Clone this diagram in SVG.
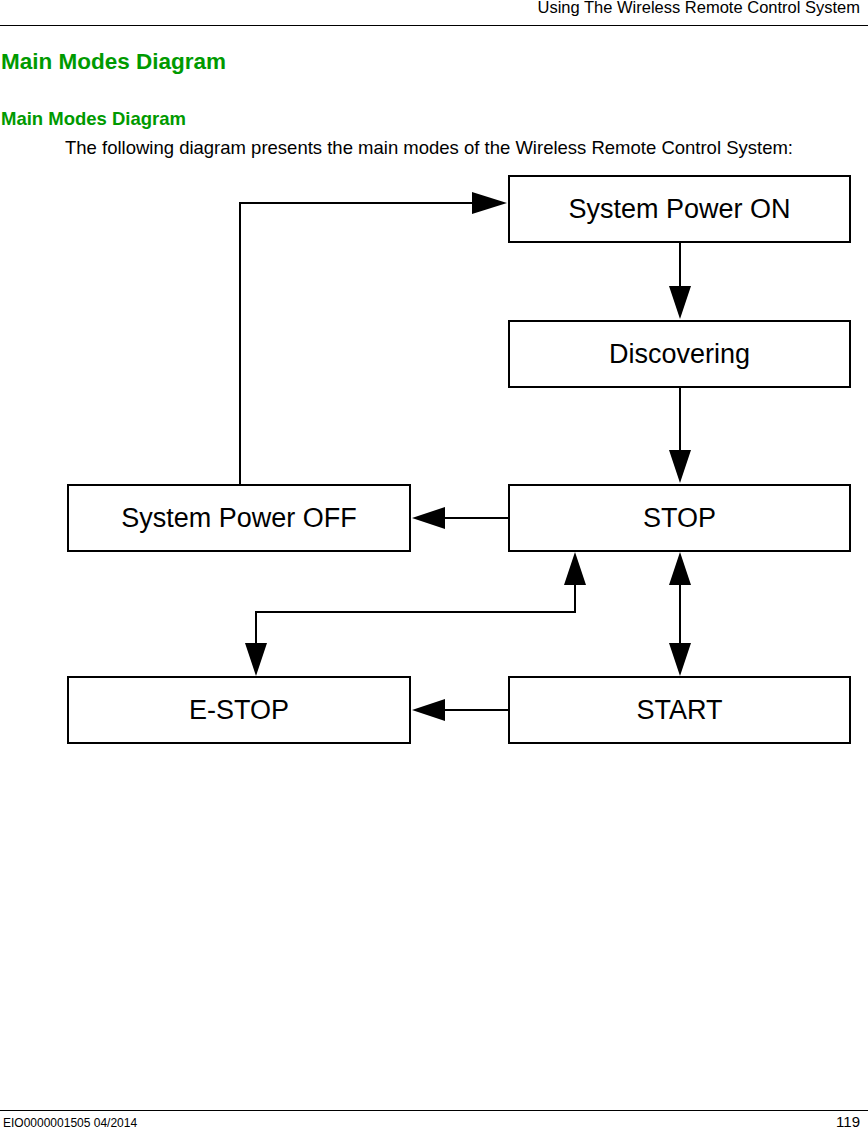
<svg xmlns="http://www.w3.org/2000/svg" width="868" height="1129" viewBox="0 0 868 1129">
<style>
.t{font-family:"Liberation Sans",Arial,sans-serif;fill:#000}
.box{fill:#fff;stroke:#000;stroke-width:2}
.bt{font-family:"Liberation Sans",Arial,sans-serif;font-size:27px;text-anchor:middle;fill:#000}
.ln{fill:none;stroke:#000;stroke-width:2}
.ah{fill:#000}
.g{font-family:"Liberation Sans",Arial,sans-serif;font-weight:bold;fill:#009a00}
</style>
<rect width="868" height="1129" fill="#fff"/>
<text class="t" x="860" y="13" font-size="16.5" text-anchor="end">Using The Wireless Remote Control System</text>
<line x1="0" y1="25.5" x2="868" y2="25.5" stroke="#000" stroke-width="1"/>
<text class="g" x="1" y="69" font-size="22.5">Main Modes Diagram</text>
<text class="g" x="1" y="125" font-size="18.5">Main Modes Diagram</text>
<text class="t" x="65" y="154" font-size="18.5">The following diagram presents the main modes of the Wireless Remote Control System:</text>
<g id="connectors">
<polyline class="ln" points="680,242 680,288"/><polygon class="ah" points="669,286 691,286 680,319"/>
<polyline class="ln" points="680,387 680,452"/><polygon class="ah" points="669,450 691,450 680,483"/>
<polyline class="ln" points="509,518 443,518"/><polygon class="ah" points="445,507 445,529 412,518"/>
<polyline class="ln" points="240,485 240,203 474,203"/><polygon class="ah" points="472,192 472,214 507,203"/>
<polyline class="ln" points="680,584 680,645"/><polygon class="ah" points="669,585 691,585 680,552"/><polygon class="ah" points="669,643 691,643 680,676"/>
<polyline class="ln" points="575,584 575,612 256,612 256,645"/><polygon class="ah" points="564,585 586,585 575,552"/><polygon class="ah" points="245,643 267,643 256,676"/>
<polyline class="ln" points="509,710 443,710"/><polygon class="ah" points="445,699 445,721 412,710"/>
</g>
<g id="n-on"><rect class="box" x="509" y="176" width="341" height="66"/><text class="bt" x="679.5" y="218">System Power ON</text></g>
<g id="n-disc"><rect class="box" x="509" y="321" width="341" height="66"/><text class="bt" x="679.5" y="363">Discovering</text></g>
<g id="n-stop"><rect class="box" x="509" y="485" width="341" height="66"/><text class="bt" x="679.5" y="527">STOP</text></g>
<g id="n-off"><rect class="box" x="68" y="485" width="342" height="66"/><text class="bt" x="239" y="527">System Power OFF</text></g>
<g id="n-estop"><rect class="box" x="68" y="677" width="342" height="66"/><text class="bt" x="239" y="719">E-STOP</text></g>
<g id="n-start"><rect class="box" x="509" y="677" width="341" height="66"/><text class="bt" x="679.5" y="719">START</text></g>
<line x1="0" y1="1110.5" x2="868" y2="1110.5" stroke="#000" stroke-width="1"/>
<text class="t" x="3" y="1127" font-size="12">EIO0000001505 04/2014</text>
<text class="t" x="860" y="1127" font-size="15" text-anchor="end">119</text>
</svg>
